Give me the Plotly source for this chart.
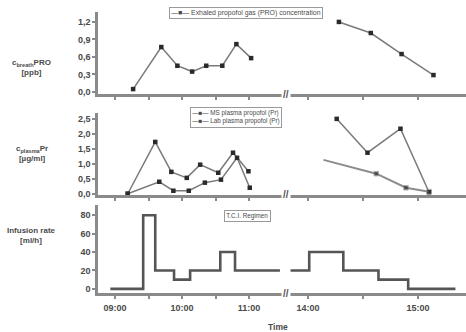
import plotly.graph_objects as go
from plotly.subplots import make_subplots

# ---- data (time in decimal hours) ----
eto_t_left = [9.27, 9.69, 9.93, 10.15, 10.36, 10.60, 10.81, 11.03]
eto_v_left = [0.05, 0.77, 0.45, 0.35, 0.45, 0.45, 0.82, 0.58]
eto_t_right = [14.28, 14.57, 14.85, 15.14]
eto_v_right = [1.20, 1.01, 0.65, 0.29]

ms_t_left = [9.19, 9.60, 9.84, 10.07, 10.27, 10.54, 10.76, 10.99]
ms_v_left = [0.0, 1.73, 0.73, 0.53, 0.97, 0.70, 1.37, 0.75]
ms_t_right = [14.26, 14.54, 14.84, 15.10]
ms_v_right = [2.50, 1.37, 2.17, 0.05]

lab_t_left = [9.19, 9.66, 9.87, 10.10, 10.34, 10.58, 10.82, 11.01]
lab_v_left = [0.0, 0.40, 0.10, 0.10, 0.37, 0.47, 1.20, 0.20]
lab_t_right = [14.14, 14.62, 14.89, 15.10]
lab_v_right = [1.13, 0.67, 0.20, 0.07]

inf_t_left = [8.93, 9.42, 9.60, 9.88, 10.12, 10.57, 10.79, 11.46]
inf_v_left = [0, 80, 20, 10, 20, 40, 20, 20]
inf_t_right = [13.84, 14.01, 14.32, 14.64, 14.91, 15.34]
inf_v_right = [20, 40, 20, 10, 0, 0]

left_ticks = [9, 10, 11]
left_labels = ["09:00", "10:00", "11:00"]
left_minor = [9.5, 10.5]
right_ticks = [14, 15]
right_labels = ["14:00", "15:00"]
right_minor = [14.5]

y1_ticks = [0, 0.3, 0.6, 0.9, 1.2]
y1_labels = ["0,0", "0,3", "0,6", "0,9", "1,2"]
y2_ticks = [0, 0.5, 1.0, 1.5, 2.0, 2.5]
y2_labels = ["0,0", "0,5", "1,0", "1,5", "2,0", "2,5"]
y3_ticks = [0, 20, 40, 60, 80]
y3_labels = ["0", "20", "40", "60", "80"]

legend1_text = "—■— Exhaled propofol gas (PRO) concentration"
legend2_text = "—■— MS plasma propofol (Pr)<br>—■— Lab plasma propofol (Pr)"
legend3_text = "T.C.I. Regimen"

LINE = "#7a7a7a"
MARK = "#2a2a2a"
AX = "#8a8a8a"
TXT = "#4a4a4a"
FAM = "Liberation Sans, Arial"

fig = make_subplots(rows=3, cols=2)

def add(tr, r, c):
    fig.add_trace(tr, row=r, col=c)

mk = dict(symbol="square", size=4.5, color=MARK)

# panel 1
add(go.Scatter(x=eto_t_left, y=eto_v_left, mode="lines+markers",
               line=dict(color=LINE, width=1.5), marker=mk), 1, 1)
add(go.Scatter(x=eto_t_right, y=eto_v_right, mode="lines+markers",
               line=dict(color=LINE, width=1.5), marker=mk), 1, 2)

# panel 2
add(go.Scatter(x=ms_t_left, y=ms_v_left, mode="lines+markers",
               line=dict(color=LINE, width=1.5), marker=mk), 2, 1)
add(go.Scatter(x=lab_t_left, y=lab_v_left, mode="lines+markers",
               line=dict(color=LINE, width=1.5), marker=mk), 2, 1)
add(go.Scatter(x=ms_t_right, y=ms_v_right, mode="lines+markers",
               line=dict(color=LINE, width=1.5), marker=mk), 2, 2)
add(go.Scatter(x=lab_t_right, y=lab_v_right, mode="lines+markers",
               line=dict(color="#8c8c8c", width=2),
               marker=dict(symbol="square", size=[0, 4.5, 4.5, 4.5], color=MARK)), 2, 2)

# panel 3
add(go.Scatter(x=inf_t_left, y=inf_v_left, mode="lines",
               line=dict(color="#555555", width=2.6, shape="hv")), 3, 1)
add(go.Scatter(x=inf_t_right, y=inf_v_right, mode="lines",
               line=dict(color="#555555", width=2.6, shape="hv")), 3, 2)

tf = dict(size=9, color=TXT, family=FAM, weight="bold")

ydoms = {1: [0.708, 1.0], 2: [0.349, 0.641], 3: [0.0, 0.313]}
yranges = {1: [-0.035, 1.37], 2: [-0.04, 2.7], 3: [-4.5, 91]}
yt = {1: (y1_ticks, y1_labels), 2: (y2_ticks, y2_labels), 3: (y3_ticks, y3_labels)}

for r in (1, 2, 3):
    for c in (1, 2):
        idx = (r - 1) * 2 + c
        xname = "xaxis" if idx == 1 else f"xaxis{idx}"
        yname = "yaxis" if idx == 1 else f"yaxis{idx}"
        if c == 1:
            fig.layout[xname].update(domain=[0, 0.503], range=[8.746, 11.507],
                                     tickvals=left_ticks, ticktext=left_labels,
                                     minor=dict(tickvals=left_minor, ticks="outside",
                                                ticklen=3, tickwidth=1.5, tickcolor=AX))
        else:
            fig.layout[xname].update(domain=[0.522, 1.0], range=[13.836, 15.436],
                                     tickvals=right_ticks, ticktext=right_labels,
                                     minor=dict(tickvals=right_minor, ticks="outside",
                                                ticklen=3, tickwidth=1.5, tickcolor=AX))
        fig.layout[xname].update(showline=True, linecolor=AX, linewidth=2.5,
                                 ticks="outside", ticklen=3, tickwidth=1.5,
                                 tickcolor=AX, showgrid=False, zeroline=False,
                                 showticklabels=(r == 3), tickfont=tf,
                                 ticklabelstandoff=1,
                                 anchor=yname.replace("axis", ""))
        fig.layout[yname].update(domain=ydoms[r], range=yranges[r],
                                 showgrid=False, zeroline=False,
                                 anchor=xname.replace("axis", ""))
        if c == 1:
            fig.layout[yname].update(showline=True, linecolor=AX, linewidth=2.5,
                                     ticks="outside", ticklen=3, tickwidth=1.5,
                                     tickcolor=AX, tickvals=yt[r][0],
                                     ticktext=yt[r][1], tickfont=tf)
        else:
            fig.layout[yname].update(showline=False, showticklabels=False,
                                     ticks="")

fig.update_layout(
    width=466, height=332,
    margin=dict(l=98, r=0, t=12, b=39),
    paper_bgcolor="white", plot_bgcolor="white",
    showlegend=False,
)

# legend boxes
for txt, x, y, fs in ((legend1_text, 0.402, 0.996, 6.9),
                      (legend2_text, 0.375, 0.626, 6.3),
                      (legend3_text, 0.405, 0.274, 6.3)):
    fig.add_annotation(xref="paper", yref="paper", x=x, y=y, text=txt,
                       showarrow=False, font=dict(size=fs, color=TXT, family=FAM),
                       align="left",
                       bordercolor="#9a9a9a", borderwidth=1, borderpad=1.2,
                       bgcolor="white", xanchor="center", yanchor="middle")

# axis titles
tfont = dict(size=8, color=TXT, family=FAM, weight="bold")
fig.add_annotation(xref="paper", yref="paper", x=-0.18, y=0.845,
                   text="c<sub>breath</sub>PRO<br>[ppb]", showarrow=False,
                   font=tfont, xanchor="center")
fig.add_annotation(xref="paper", yref="paper", x=-0.18, y=0.495,
                   text="c<sub>plasma</sub>Pr<br>[µg/ml]", showarrow=False,
                   font=tfont, xanchor="center")
fig.add_annotation(xref="paper", yref="paper", x=-0.18, y=0.165,
                   text="Infusion rate<br>[ml/h]", showarrow=False,
                   font=tfont, xanchor="center")
fig.add_annotation(xref="paper", yref="paper", x=0.49, y=-0.12,
                   text="Time", showarrow=False,
                   font=dict(size=8.5, color=TXT, family=FAM, weight="bold"),
                   xanchor="center", yanchor="middle")

# axis break marks
for yv in (0.708, 0.349, 0.0):
    fig.add_annotation(xref="paper", yref="paper", x=0.512, y=yv,
                       text="//", showarrow=False, bgcolor="white",
                       font=dict(size=10, color="#555555", family=FAM, weight="bold"),
                       xanchor="center", yanchor="middle")

fig.write_html("out.html", config={"displayModeBar": False},
               post_script="document.body.style.margin='0';document.body.style.overflow='hidden';")
